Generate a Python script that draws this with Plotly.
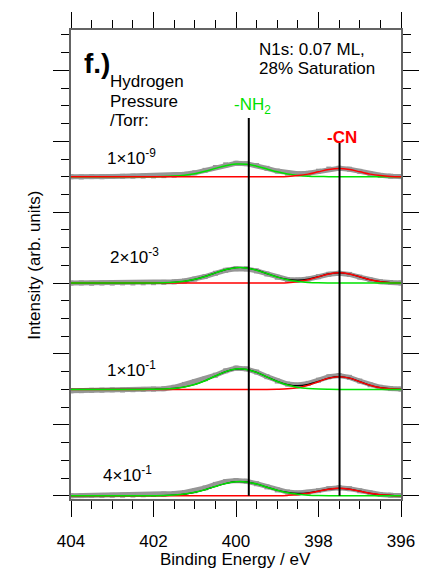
import plotly.graph_objects as go

# ---------------- data ----------------
energy = [404.0, 403.75, 403.5, 403.25, 403.0, 402.75, 402.5, 402.25, 402.0, 401.75,
          401.5, 401.25, 401.0, 400.75, 400.5, 400.25, 400.0, 399.75, 399.5, 399.25,
          399.0, 398.75, 398.5, 398.25, 398.0, 397.75, 397.5, 397.25, 397.0, 396.75,
          396.5, 396.25, 396.0]

pressure_labels = ["1×10<sup>-9</sup>", "2×10<sup>-3</sup>", "1×10<sup>-1</sup>", "4×10<sup>-1</sup>"]
offsets = [4.5, 3.0, 1.5, 0.0]

# measured spectra (height above each baseline)
data_1e9 = [0.0, -0.003, 0.002, 0.0, 0.004, 0.006, 0.008, 0.01, 0.012, 0.016, 0.022, 0.034, 0.055,
            0.09, 0.13, 0.168, 0.19, 0.185, 0.158, 0.118, 0.08, 0.052, 0.042, 0.05, 0.078, 0.108,
            0.12, 0.106, 0.076, 0.042, 0.02, 0.008, 0.002]
data_2e3 = [0.0, 0.002, -0.002, 0.001, 0.0, 0.003, 0.002, 0.004, 0.006, 0.01, 0.018, 0.03, 0.056,
            0.092, 0.138, 0.18, 0.203, 0.2, 0.172, 0.128, 0.082, 0.05, 0.044, 0.058, 0.09, 0.124,
            0.138, 0.122, 0.084, 0.046, 0.02, 0.008, 0.002]
data_1e1 = [-0.02, -0.018, -0.012, -0.01, -0.006, -0.008, -0.004, 0.0, 0.004, 0.01, 0.03, 0.07, 0.11,
            0.15, 0.2, 0.262, 0.3, 0.29, 0.245, 0.18, 0.118, 0.075, 0.062, 0.085, 0.13, 0.178,
            0.195, 0.17, 0.118, 0.066, 0.03, 0.012, 0.004]
data_4e1 = [0.0, 0.002, 0.003, 0.004, 0.006, 0.008, 0.01, 0.014, 0.018, 0.024, 0.032, 0.045, 0.07,
            0.11, 0.16, 0.2, 0.215, 0.205, 0.17, 0.125, 0.082, 0.052, 0.04, 0.048, 0.072, 0.1,
            0.112, 0.1, 0.07, 0.04, 0.018, 0.008, 0.003]

# fitted -NH2 components
nh2_1e9 = [0, 0, 0, 0, 0, 0, 0, 0, 0.001, 0.003, 0.009, 0.021, 0.043, 0.077, 0.118, 0.156, 0.178,
           0.175, 0.149, 0.109, 0.069, 0.038, 0.018, 0.007, 0.003, 0.001, 0, 0, 0, 0, 0, 0, 0]
nh2_2e3 = [0, 0, 0, 0, 0, 0, 0, 0, 0.001, 0.004, 0.011, 0.026, 0.053, 0.094, 0.144, 0.190, 0.217,
           0.214, 0.182, 0.134, 0.084, 0.046, 0.022, 0.009, 0.003, 0.001, 0, 0, 0, 0, 0, 0, 0]
nh2_1e1 = [0, 0, 0, 0, 0, 0, 0, 0, 0.002, 0.005, 0.014, 0.034, 0.069, 0.123, 0.189, 0.251, 0.287,
           0.282, 0.240, 0.176, 0.111, 0.061, 0.028, 0.012, 0.004, 0.001, 0, 0, 0, 0, 0, 0, 0]
nh2_4e1 = [0, 0, 0, 0, 0, 0, 0, 0, 0.001, 0.003, 0.010, 0.023, 0.048, 0.085, 0.131, 0.173, 0.198,
           0.195, 0.165, 0.121, 0.077, 0.042, 0.020, 0.008, 0.003, 0.001, 0, 0, 0, 0, 0, 0, 0]

# fitted -CN components
cn_1e9 = [0] * 20 + [0.001, 0.005, 0.016, 0.037, 0.070, 0.101, 0.115, 0.101, 0.070, 0.037, 0.016, 0.005, 0.001]
cn_2e3 = [0] * 20 + [0.002, 0.006, 0.020, 0.047, 0.088, 0.128, 0.145, 0.128, 0.088, 0.047, 0.020, 0.006, 0.002]
cn_1e1 = [0] * 20 + [0.002, 0.008, 0.024, 0.059, 0.109, 0.159, 0.180, 0.159, 0.109, 0.059, 0.024, 0.008, 0.002]
cn_4e1 = [0] * 20 + [0.001, 0.005, 0.014, 0.034, 0.064, 0.093, 0.105, 0.093, 0.064, 0.034, 0.014, 0.005, 0.001]

# reference peak positions (eV) and marker heights
nh2_position = 399.69
cn_position = 397.49
nh2_line_top = 5.33
cn_line_top = 4.98

x_ticks = [404, 402, 400, 398, 396]

measured = [data_1e9, data_2e3, data_1e1, data_4e1]
nh2_fits = [nh2_1e9, nh2_2e3, nh2_1e1, nh2_4e1]
cn_fits = [cn_1e9, cn_2e3, cn_1e1, cn_4e1]

# ---------------- figure ----------------
GRAY = "rgb(150,150,150)"
GREEN = "rgb(0,225,0)"
RED = "rgb(255,0,0)"
FONT = "Liberation Sans, Arial, sans-serif"

fig = go.Figure()

for i, (off, d, g, r) in enumerate(zip(offsets, measured, nh2_fits, cn_fits)):
    fig.add_trace(go.Scatter(x=energy, y=[v + off for v in d], mode="lines+markers",
                             line=dict(color=GRAY, width=5),
                             marker=dict(symbol="square", size=5, color=GRAY),
                             showlegend=False, hoverinfo="skip"))
    total = [a + b + off for a, b in zip(g, r)]
    if i > 0:
        fig.add_trace(go.Scatter(x=energy, y=total, mode="lines", line=dict(color="black", width=1.2, shape="spline"),
                                 showlegend=False, hoverinfo="skip"))
    green_tr = go.Scatter(x=energy, y=[v + off for v in g], mode="lines",
                          line=dict(color=GREEN, width=1.5, shape="spline"), showlegend=False, hoverinfo="skip")
    red_tr = go.Scatter(x=energy, y=[v + off for v in r], mode="lines",
                        line=dict(color=RED, width=1.5, shape="spline"), showlegend=False, hoverinfo="skip")
    if i == 0:
        fig.add_trace(green_tr)
        fig.add_trace(red_tr)
    else:
        fig.add_trace(red_tr)
        fig.add_trace(green_tr)

fig.add_trace(go.Scatter(x=[nh2_position, nh2_position], y=[0, nh2_line_top], mode="lines",
                         line=dict(color="black", width=2), showlegend=False, hoverinfo="skip"))
fig.add_trace(go.Scatter(x=[cn_position, cn_position], y=[0, cn_line_top], mode="lines",
                         line=dict(color="black", width=2), showlegend=False, hoverinfo="skip"))

# pixel helpers for label placement
L, R, T, B = 71, 400.7, 20, 499.3
def px(xp):
    return (xp - L) / (R - L)
def py(yp):
    return (B - yp) / (B - T)

def ann(text, x, y, size=17, color="black", xanchor="left", angle=0):
    fig.add_annotation(text=text, x=px(x), y=py(y), xref="paper", yref="paper",
                       xanchor=xanchor, yanchor="middle", showarrow=False, textangle=angle,
                       font=dict(family=FONT, size=size, color=color))

ann("<b>f.)</b>", 82, 54, size=28)
ann("Hydrogen", 108, 73)
ann("Pressure", 108, 93)
ann("/Torr:", 108, 112.5)
ann("N1s: 0.07 ML,", 257, 40)
ann("28% Saturation", 257, 59)
ann("-NH<sub>2</sub>", 252, 98, color=GREEN, xanchor="center")
ann("<b>-CN</b>", 342, 130, color=RED, xanchor="center")
label_pos = [(105, 150), (108, 251), (105, 366), (101, 474)]
for t, (lx, ly) in zip(pressure_labels, label_pos):
    ann(t, lx, ly)
ann("Intensity (arb. units)", 35, 260, xanchor="center", angle=-90)
ann("Binding Energy / eV", 235.5, 561, xanchor="center")

axis_common = dict(showgrid=False, zeroline=False, showline=True, linecolor="rgb(100,100,100)",
                   linewidth=1.5, mirror="ticks", ticks="outside", ticklen=16, tickwidth=1.2,
                   tickcolor="black")
fig.update_xaxes(range=[404, 396], tickvals=x_ticks, ticktext=[str(v) for v in x_ticks],
                 tickfont=dict(family=FONT, size=17, color="black"), ticklabelstandoff=10,
                 minor=dict(dtick=0.5, tick0=0, ticklen=8, tickwidth=1.2, tickcolor="black", ticks="outside"),
                 **axis_common)
fig.update_yaxes(range=[-0.046, 6.57], tick0=0, dtick=1, showticklabels=False,
                 minor=dict(dtick=0.25, tick0=0, ticklen=8, tickwidth=1.2, tickcolor="black", ticks="outside"),
                 **axis_common)

fig.update_layout(width=436, height=575, margin=dict(l=71, r=35.3, t=20, b=75.7),
                  plot_bgcolor="white", paper_bgcolor="white", showlegend=False,
                  font=dict(family=FONT, size=17, color="black"))

fig.write_html("out.html")
